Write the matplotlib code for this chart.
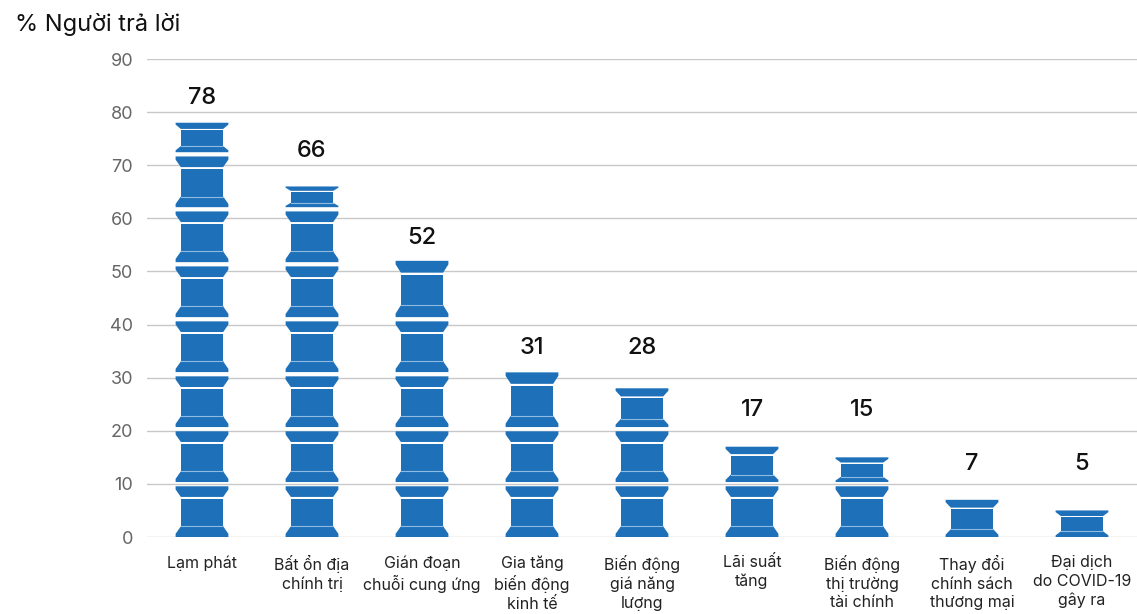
import matplotlib
matplotlib.use("Agg")
import matplotlib.pyplot as plt
from matplotlib.patches import Polygon

# ---------------- data ----------------
categories = [
    "Lạm phát",
    "Bất ổn địa\nchính trị",
    "Gián đoạn\nchuỗi cung ứng",
    "Gia tăng\nbiến động\nkinh tế",
    "Biến động\ngiá năng\nlượng",
    "Lãi suất\ntăng",
    "Biến động\nthị trường\ntài chính",
    "Thay đổi\nchính sách\nthương mại",
    "Đại dịch\ndo COVID-19\ngây ra",
]
values = [78, 66, 52, 31, 28, 17, 15, 7, 5]
y_ticks = [0, 10, 20, 30, 40, 50, 60, 70, 80, 90]
y_title = "% Người trả lời"

# ---------------- layout / style ----------------
# vertical centre of each value label (data units), as placed in the original
label_pos = [82.7, 72.7, 56.3, 35.6, 35.6, 23.9, 23.9, 13.8, 13.8]

BLUE = "#1E70B9"
PITCH = 10.35        # height of one stacked "spool" picture incl. gap (data units)
GAP = 0.8            # white gap between stacked spools
BAR_W = 0.48         # full (flare) width in category units
BODY_W = 0.375       # body width
NECK_W = 0.385       # narrow end of the flares

plt.rcParams['font.family'] = ['Inter', 'DejaVu Sans']

fig = plt.figure(figsize=(11.37, 6.14), dpi=100)
ax = fig.add_axes([147 / 1137, 1 - 537 / 614, 1 - 147 / 1137, (537 - 59) / 614])
ax.set_xlim(-0.5, len(categories) - 0.5)
ax.set_ylim(0, 90)


def draw_spool(ax, xc, y0, h):
    W, B, N = BAR_W / 2, BODY_W / 2, NECK_W / 2
    fh = 0.21 * h
    s = 0.3 * fh
    # bottom flare (wide at the bottom)
    a, b = y0, y0 + fh
    ax.add_patch(Polygon([(xc - W, a), (xc + W, a), (xc + W, a + s), (xc + N, b),
                          (xc - N, b), (xc - W, a + s)], closed=True,
                         facecolor=BLUE, edgecolor='none', zorder=3))
    # body
    c, d = b, y0 + 0.745 * h
    ax.add_patch(Polygon([(xc - B, c), (xc + B, c), (xc + B, d), (xc - B, d)],
                         closed=True, facecolor=BLUE, edgecolor='none', zorder=3))
    ax.plot([xc - B, xc + B], [c, c], color="#8fbbe3", lw=0.8, zorder=4)
    # top flare (wide at the top)
    e, f = y0 + h - fh, y0 + h
    ax.add_patch(Polygon([(xc - N, e), (xc + N, e), (xc + W, f - s), (xc + W, f),
                          (xc - W, f), (xc - W, f - s)], closed=True,
                         facecolor=BLUE, edgecolor='none', zorder=3))


for i, v in enumerate(values):
    n = int((v + 0.6) // PITCH)
    r = v - n * PITCH
    for k in range(n):
        h = PITCH - GAP
        if k == n - 1 and r < 1:
            h = v - k * PITCH          # last full spool ends at the value
        draw_spool(ax, i, k * PITCH, h)
    if r >= 1:
        draw_spool(ax, i, n * PITCH, r)
    ax.text(i, label_pos[i], str(v), ha='center', va='center', fontsize=17,
            color='#111111', fontweight='medium')

# axes styling
for sp in ax.spines.values():
    sp.set_visible(False)
ax.set_axisbelow(True)
ax.yaxis.grid(True, color='#c8c8c8', lw=1)
ax.set_yticks(y_ticks)
ax.set_yticklabels([str(t) for t in y_ticks], fontsize=13, color='#666666')
ax.tick_params(axis='y', length=0, pad=10)
ax.set_xticks(range(len(categories)))
ax.set_xticklabels(categories, fontsize=11.5, color='#222222', linespacing=1.3)
ax.tick_params(axis='x', length=0, pad=13)

fig.text(15 / 1137, 1 - 25 / 614, y_title, ha='left', va='center',
         fontsize=17, color='#111111')

fig.savefig("out.png", dpi=100)
